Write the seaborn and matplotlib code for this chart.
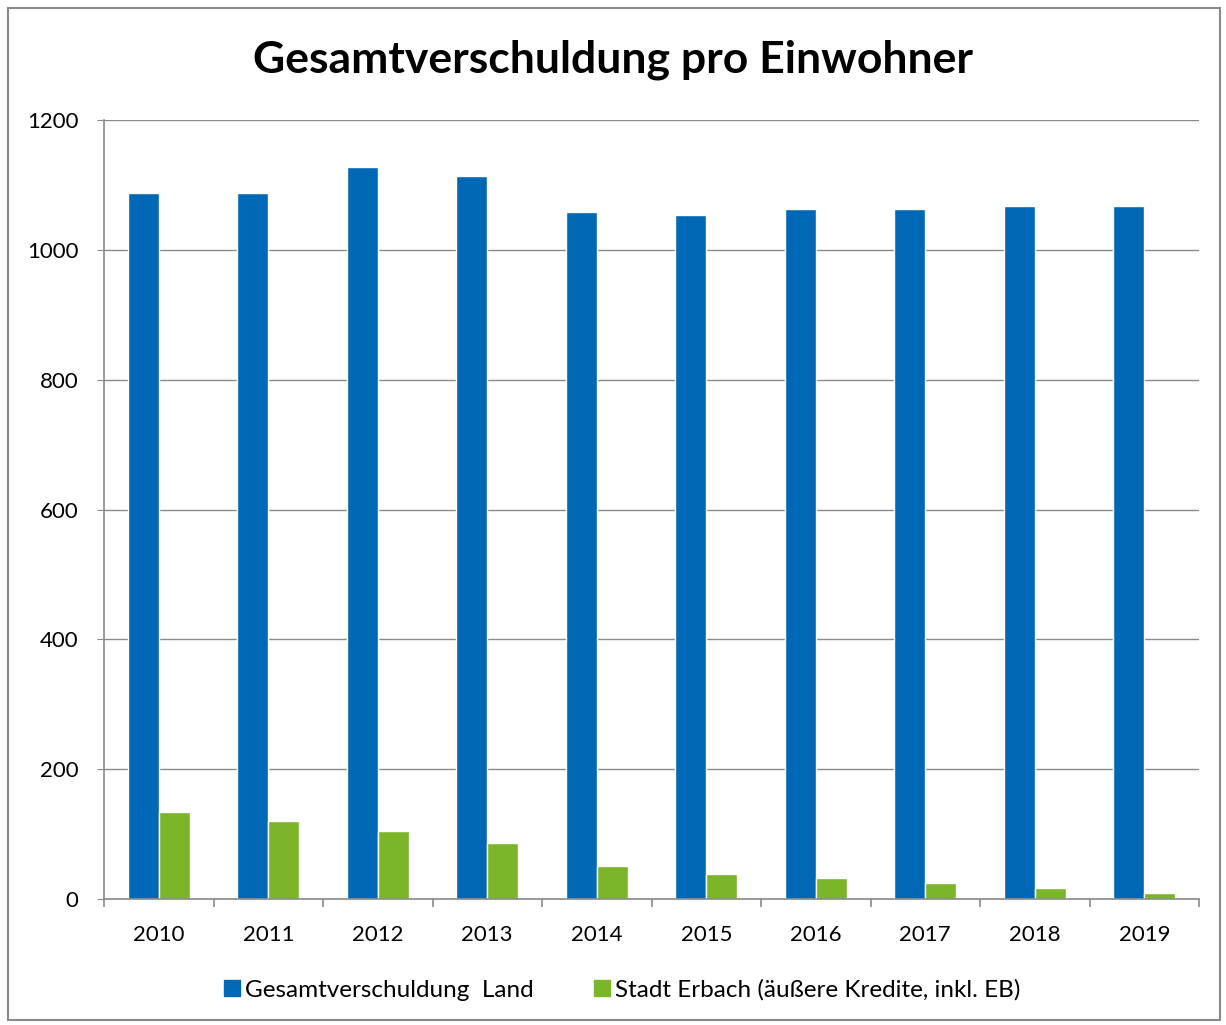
import pandas as pd
import seaborn as sns
import matplotlib.pyplot as plt
from matplotlib.patches import Rectangle
from matplotlib.ticker import FixedLocator

years = ["2010", "2011", "2012", "2013", "2014", "2015", "2016", "2017", "2018", "2019"]
land = [1087, 1087, 1128, 1114, 1059, 1053, 1063, 1063, 1068, 1068]
erbach = [134, 120, 104, 87, 51, 39, 32, 24, 17, 9]
series_names = ["Gesamtverschuldung  Land", "Stadt Erbach (äußere Kredite, inkl. EB)"]
colors = ["#0068b4", "#7ab52a"]

df = pd.DataFrame({
    "Jahr": years * 2,
    "Wert": land + erbach,
    "Reihe": [series_names[0]] * len(years) + [series_names[1]] * len(years),
})

sns.set_style("white")
plt.rcParams['font.family'] = ['Lato', 'DejaVu Sans']
plt.rcParams['text.color'] = 'black'
plt.rcParams['xtick.labelcolor'] = 'black'
plt.rcParams['ytick.labelcolor'] = 'black'

fig = plt.figure(figsize=(12.26, 10.25), dpi=100)
ax = fig.add_axes([104 / 1226, 1 - 899 / 1025, 1095 / 1226, 779 / 1025])

sns.barplot(data=df, x="Jahr", y="Wert", hue="Reihe", palette=colors,
            width=0.57, saturation=1, ax=ax, legend=False)

ax.set_ylim(0, 1200)
ax.set_xlim(-0.5, 9.5)
ax.set_yticks(range(0, 1201, 200))
ax.yaxis.grid(True, color="#8a8a8a", linewidth=1)
ax.set_axisbelow(True)
for s in ["top", "right"]:
    ax.spines[s].set_visible(False)
for s in ["left", "bottom"]:
    ax.spines[s].set_color("#8a8a8a")
    ax.spines[s].set_linewidth(1.2)

ax.tick_params(axis="y", length=5, color="#8a8a8a", labelsize=16, pad=13.5, left=True)
ax.tick_params(axis="x", which="major", length=0, labelsize=16, pad=19)
ax.xaxis.set_minor_locator(FixedLocator([i - 0.5 for i in range(len(years) + 1)]))
ax.tick_params(axis="x", which="minor", length=6, width=1.2, color="#8a8a8a", bottom=True)
ax.set_xlabel("")
ax.set_ylabel("")

fig.text(0.5, 1 - 60 / 1025, "Gesamtverschuldung pro Einwohner", ha="center", va="center",
         fontsize=32, fontweight="bold")

handles = [Rectangle((0, 0), 1, 1, color=c) for c in colors]
fig.legend(handles, series_names, loc="center", bbox_to_anchor=(0.5077, 1 - 990 / 1025),
           ncol=2, frameon=False, fontsize=17.5, handlelength=0.66, handleheight=0.66,
           handletextpad=0.2, columnspacing=2.5)

fig.patches.append(Rectangle((8 / 1226, 5 / 1025), 1212 / 1226, 1012 / 1025,
                             transform=fig.transFigure, fill=False,
                             edgecolor="#8a8a8a", linewidth=1.5))

fig.savefig("out.png", dpi=100)
